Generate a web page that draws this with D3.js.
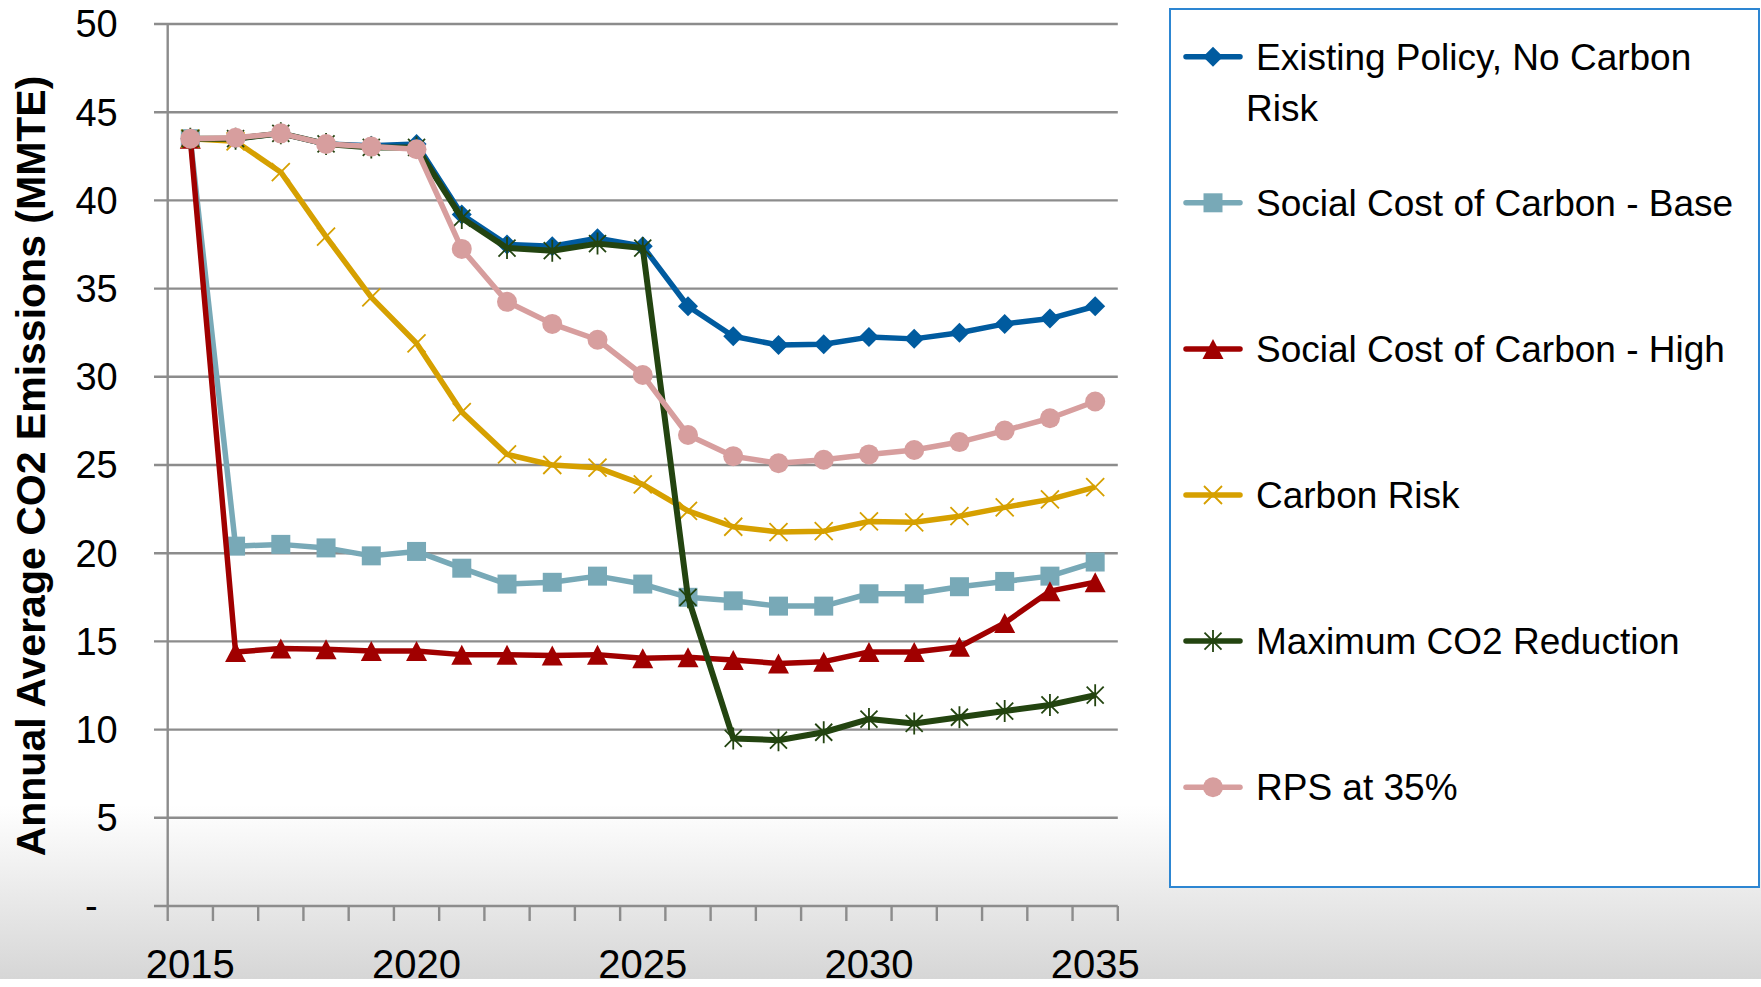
<!DOCTYPE html>
<html>
<head>
<meta charset="utf-8">
<script src="https://cdn.jsdelivr.net/npm/d3@7"></script>
<style>
  html, body { margin: 0; padding: 0; background: #fff; }
  svg { display: block; }
  text { font-family: "Liberation Sans", Arial, sans-serif; fill: #000; }
</style>
</head>
<body>
<svg id="chart" width="1761" height="987"></svg>
<script>
// Years on the category axis
var years = [2015, 2016, 2017, 2018, 2019, 2020, 2021, 2022, 2023, 2024, 2025,
             2026, 2027, 2028, 2029, 2030, 2031, 2032, 2033, 2034, 2035];
var xLabelYears = [2015, 2020, 2025, 2030, 2035];
var yTickValues = [0, 5, 10, 15, 20, 25, 30, 35, 40, 45, 50];

// Series values (MMTE)
var existingPolicy = [43.5, 43.5, 43.8, 43.2, 43.1, 43.2, 39.2, 37.5, 37.4, 37.85, 37.4,
                      34.0, 32.3, 31.8, 31.85, 32.25, 32.15, 32.5, 33.0, 33.3, 34.0];
var sccBase        = [43.5, 20.4, 20.5, 20.3, 19.85, 20.1, 19.15, 18.25, 18.35, 18.7, 18.25,
                      17.5, 17.3, 17.0, 17.0, 17.7, 17.7, 18.1, 18.4, 18.7, 19.5];
var sccHigh        = [43.5, 14.4, 14.6, 14.55, 14.45, 14.45, 14.25, 14.25, 14.2, 14.25, 14.05,
                      14.1, 13.95, 13.75, 13.85, 14.4, 14.4, 14.7, 16.05, 17.85, 18.35];
var carbonRisk     = [43.5, 43.35, 41.6, 37.95, 34.5, 31.9, 28.0, 25.6, 25.0, 24.85, 23.9,
                      22.4, 21.5, 21.2, 21.25, 21.8, 21.75, 22.1, 22.6, 23.05, 23.75];
var maxReduction   = [43.5, 43.5, 43.8, 43.2, 43.0, 43.0, 39.0, 37.3, 37.15, 37.55, 37.3,
                      17.5, 9.5, 9.4, 9.85, 10.6, 10.35, 10.7, 11.05, 11.4, 11.95];
var rps35          = [43.5, 43.55, 43.8, 43.2, 43.05, 42.9, 37.25, 34.25, 33.0, 32.1, 30.1,
                      26.7, 25.5, 25.1, 25.3, 25.6, 25.85, 26.3, 26.95, 27.65, 28.6];

var seriesNames = ["Existing Policy, No Carbon Risk", "Social Cost of Carbon - Base",
                   "Social Cost of Carbon - High", "Carbon Risk",
                   "Maximum CO2 Reduction", "RPS at 35%"];
var seriesValues = [existingPolicy, sccBase, sccHigh, carbonRisk, maxReduction, rps35];
var seriesColors = ["#005B9F", "#78A9B7", "#A00000", "#D6A000", "#234410", "#D79E9E"];
var seriesMarkers = ["diamond", "square", "triangle", "x", "star", "circle"];

var svg = d3.select("#chart");

// Background: white with grey fade at the bottom
var defs = svg.append("defs");
var grad = defs.append("linearGradient").attr("id", "fade")
    .attr("x1", 0).attr("y1", 0).attr("x2", 0).attr("y2", 1);
grad.append("stop").attr("offset", "0%").attr("stop-color", "#ffffff");
grad.append("stop").attr("offset", "100%").attr("stop-color", "#d6d6d6");
svg.append("rect").attr("width", 1761).attr("height", 987).attr("fill", "#fff");
svg.append("rect").attr("x", 0).attr("y", 805).attr("width", 1761).attr("height", 174)
    .attr("fill", "url(#fade)");

// Scales
var x = d3.scaleBand().domain(years).range([167.7, 1117.8]).padding(0);
var y = d3.scaleLinear().domain([0, 50]).range([906, 24]);
var bw = x.bandwidth();
function cx(yr) { return x(yr) + bw / 2; }

var gridColor = "#8c8c8c";

// Horizontal gridlines
svg.append("g").selectAll("line").data(yTickValues).join("line")
    .attr("x1", 154).attr("x2", 1117.8)
    .attr("y1", function(d) { return y(d); })
    .attr("y2", function(d) { return y(d); })
    .attr("stroke", gridColor).attr("stroke-width", 2.4);

// Y axis with labels
var yAxis = svg.append("g").attr("transform", "translate(167.7,0)")
    .call(d3.axisLeft(y).tickValues(yTickValues).tickSize(0).tickPadding(50)
        .tickFormat(function(d) { return d === 0 ? "-" : d; }));
yAxis.select(".domain").attr("stroke", gridColor).attr("stroke-width", 2.4)
    .attr("d", "M0," + y(50) + "V" + y(0));
yAxis.selectAll("text").attr("font-size", 38).attr("font-family", "Liberation Sans, Arial, sans-serif")
    .attr("fill", "#000").attr("dy", "0.34em")
    .attr("x", function(d) { return d === 0 ? -70 : -50; });

// X axis: ticks between categories
var boundaries = years.map(function(yr) { return x(yr); }).concat([x(years[years.length - 1]) + bw]);
svg.append("g").selectAll("line").data(boundaries).join("line")
    .attr("x1", function(d) { return d; }).attr("x2", function(d) { return d; })
    .attr("y1", 906).attr("y2", 921)
    .attr("stroke", gridColor).attr("stroke-width", 2.4);

svg.append("g").selectAll("text").data(xLabelYears).join("text")
    .attr("x", function(d) { return cx(d); })
    .attr("y", 978)
    .attr("text-anchor", "middle")
    .attr("font-size", 40)
    .text(function(d) { return d; });

// Y axis title
svg.append("text")
    .attr("transform", "translate(45,466) rotate(-90)")
    .attr("text-anchor", "middle")
    .attr("font-size", 41)
    .attr("font-weight", "bold")
    .text("Annual Average CO2 Emissions (MMTE)");

// Marker shapes
function markerPath(type) {
    switch (type) {
        case "diamond": return "M0,-10L10,0L0,10L-10,0Z";
        case "square": return "M-9.5,-9.5H9.5V9.5H-9.5Z";
        case "triangle": return "M0,-10L10.5,10H-10.5Z";
        case "x": return "M-9,-9L9,9M-9,9L9,-9";
        case "star": return "M-8.5,-8.5L8.5,8.5M-8.5,8.5L8.5,-8.5M0,-11V11";
        default: return null;
    }
}
function drawMarker(g, type, color) {
    if (type === "circle") {
        g.append("circle").attr("r", 10).attr("fill", color);
    } else if (type === "x" || type === "star") {
        g.append("path").attr("d", markerPath(type)).attr("fill", "none")
            .attr("stroke", color).attr("stroke-width", 1.8);
    } else {
        g.append("path").attr("d", markerPath(type)).attr("fill", color);
    }
}

// Lines and markers
var line = d3.line()
    .x(function(d, i) { return cx(years[i]); })
    .y(function(d) { return y(d); });

seriesValues.forEach(function(vals, s) {
    var g = svg.append("g");
    g.append("path").datum(vals)
        .attr("d", line)
        .attr("fill", "none")
        .attr("stroke", seriesColors[s])
        .attr("stroke-width", s === 4 ? 6 : 5.5)
        .attr("stroke-linejoin", "round");
    vals.forEach(function(v, i) {
        var m = g.append("g").attr("transform", "translate(" + cx(years[i]) + "," + y(v) + ")");
        drawMarker(m, seriesMarkers[s], seriesColors[s]);
    });
});

// Legend
var legend = svg.append("g");
legend.append("rect").attr("x", 1170).attr("y", 9).attr("width", 589).attr("height", 878)
    .attr("fill", "#fff").attr("stroke", "#2D86D2").attr("stroke-width", 2);

seriesNames.forEach(function(name, s) {
    var rowY = 56.7 + s * 146.1;
    var row = legend.append("g");
    row.append("line").attr("x1", 1186).attr("x2", 1240).attr("y1", rowY).attr("y2", rowY)
        .attr("stroke", seriesColors[s]).attr("stroke-width", 5.5).attr("stroke-linecap", "round");
    var m = row.append("g").attr("transform", "translate(1213," + rowY + ")");
    drawMarker(m, seriesMarkers[s], seriesColors[s]);
    if (s === 0) {
        row.append("text").attr("x", 1256).attr("y", rowY + 13).attr("font-size", 37)
            .text("Existing Policy, No Carbon");
        row.append("text").attr("x", 1246).attr("y", rowY + 64).attr("font-size", 37)
            .text("Risk");
    } else {
        row.append("text").attr("x", 1256).attr("y", rowY + 13).attr("font-size", 37)
            .text(name);
    }
});
</script>
</body>
</html>
